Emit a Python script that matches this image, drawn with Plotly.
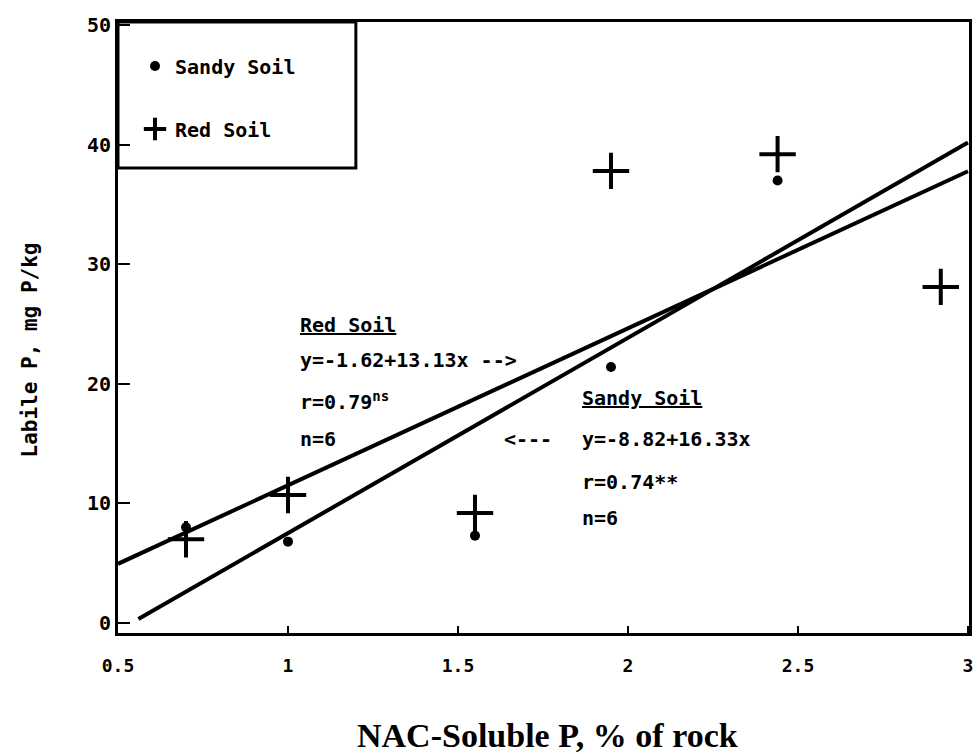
import plotly.graph_objects as go

# ---- data ----
red_x = [0.70, 1.00, 1.55, 1.95, 2.44, 2.92]
red_y = [7.0, 10.7, 9.2, 37.8, 39.2, 28.1]
sandy_x = [0.70, 1.00, 1.55, 1.95, 2.44]
sandy_y = [8.0, 6.8, 7.3, 21.4, 37.0]

red_fit = (-1.62, 13.13)     # intercept, slope
sandy_fit = (-8.82, 16.33)
red_fit_x = [0.5, 3.0]
sandy_fit_x = [0.56, 3.0]

x_ticks = [0.5, 1, 1.5, 2, 2.5, 3]
x_tick_text = ["0.5", "1", "1.5", "2", "2.5", "3"]
y_ticks = [0, 10, 20, 30, 40, 50]

MONO = "DejaVu Sans Mono"
BLACK = "#000000"

fig = go.Figure()

# regression lines
fig.add_trace(go.Scatter(
    x=red_fit_x, y=[red_fit[0] + red_fit[1] * v for v in red_fit_x],
    mode="lines", line=dict(color=BLACK, width=4), showlegend=False, hoverinfo="skip"))
fig.add_trace(go.Scatter(
    x=sandy_fit_x, y=[sandy_fit[0] + sandy_fit[1] * v for v in sandy_fit_x],
    mode="lines", line=dict(color=BLACK, width=4), showlegend=False, hoverinfo="skip"))

# points
fig.add_trace(go.Scatter(
    x=sandy_x, y=sandy_y, mode="markers", name="Sandy Soil", legendgroup="s",
    marker=dict(symbol="circle", size=10, color=BLACK)))
fig.add_trace(go.Scatter(
    x=red_x, y=red_y, mode="markers", name="Red Soil", legendgroup="r",
    marker=dict(symbol="cross-thin", size=26, color=BLACK,
                line=dict(color=BLACK, width=4))))

ann_font = dict(family=MONO, size=20, color=BLACK, weight="bold")

annotations = [
    # Red soil block
    dict(x=1.03, y=24.9, text="<u>Red Soil</u>", xanchor="left"),
    dict(x=1.03, y=22.0, text="y=-1.62+13.13x -->", xanchor="left"),
    dict(x=1.03, y=18.6, text="r=0.79<sup>ns</sup>", xanchor="left"),
    dict(x=1.03, y=15.4, text="n=6", xanchor="left"),
    # Sandy soil block
    dict(x=1.86, y=18.8, text="<u>Sandy Soil</u>", xanchor="left"),
    dict(x=1.63, y=15.4, text="<---", xanchor="left"),
    dict(x=1.86, y=15.4, text="y=-8.82+16.33x", xanchor="left"),
    dict(x=1.86, y=11.8, text="r=0.74**", xanchor="left"),
    dict(x=1.86, y=8.8, text="n=6", xanchor="left"),
]
for a in annotations:
    a.update(xref="x", yref="y", showarrow=False, font=ann_font, yanchor="middle")

annotations.append(dict(
    xref="paper", yref="paper", x=-0.103, y=0.463, text="Labile P, mg P/kg",
    textangle=-90, showarrow=False, font=dict(family=MONO, size=21, color=BLACK, weight="bold"),
    xanchor="center", yanchor="middle"))
annotations.append(dict(
    xref="paper", yref="paper", x=0.505, y=-0.167, text="NAC-Soluble P, % of rock",
    showarrow=False, font=dict(family="Liberation Serif", size=34, color=BLACK, weight="bold"),
    xanchor="center", yanchor="middle"))

fig.update_layout(
    width=980, height=754,
    margin=dict(l=118, r=7, t=22, b=121),
    paper_bgcolor="white", plot_bgcolor="white",
    annotations=annotations,
    showlegend=True,
    legend=dict(x=0.02, y=0.96, xanchor="left", yanchor="top",
                bgcolor="rgba(0,0,0,0)", borderwidth=0,
                font=dict(family=MONO, size=20, color=BLACK, weight="bold"),
                tracegroupgap=34, traceorder="grouped", itemsizing="trace"),
    shapes=[dict(type="rect", xref="paper", yref="paper", x0=0, x1=0.2795, y0=0.761, y1=1,
                 line=dict(color=BLACK, width=3), fillcolor="rgba(0,0,0,0)")],
    xaxis=dict(range=[0.5, 3.003], tickvals=x_ticks, ticktext=x_tick_text,
               showgrid=False, zeroline=False, showline=True, linecolor=BLACK, linewidth=3,
               mirror=True, ticks="inside", ticklen=7, tickwidth=2, tickcolor=BLACK,
               ticklabelstandoff=14,
               tickfont=dict(family=MONO, size=18, color=BLACK, weight="bold")),
    yaxis=dict(range=[-0.84, 50.25], tickvals=y_ticks,
               showgrid=False, zeroline=False, showline=True, linecolor=BLACK, linewidth=3,
               mirror=True, ticks="inside", ticklen=12, tickwidth=2, tickcolor=BLACK,
               tickfont=dict(family=MONO, size=20, color=BLACK, weight="bold")),
)

fig.write_html("out.html", config={"displayModeBar": False},
               post_script="document.body.style.margin='0px';")
